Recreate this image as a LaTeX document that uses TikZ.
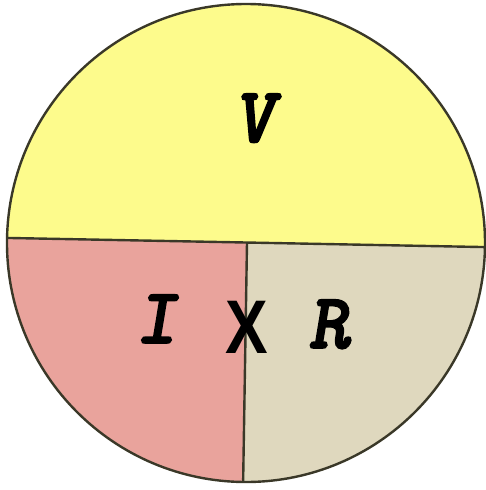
\documentclass[tikz,border=0pt]{standalone}
\usepackage{fontspec}
\usepackage{graphicx}
\setmainfont{Liberation Sans}
\newfontfamily\xsans{Liberation Sans}
\newfontfamily\slabfont{lmmonolt10-boldoblique.otf}[FakeBold=2]
\definecolor{vyel}{HTML}{FDFB8C}
\definecolor{ipink}{HTML}{E9A39C}
\definecolor{rbeige}{HTML}{DFD8BE}
\definecolor{edge}{HTML}{3A3828}
\tikzset{
  letter/.style={inner sep=0pt, anchor=base, text=black},
  slab/.style={letter, font={\slabfont\fontsize{79}{79}\selectfont}},
  divider/.style={draw=edge, line width=2.4pt},
}
\begin{document}
\begin{tikzpicture}[x=1pt,y=-1pt]
\useasboundingbox (0,0) rectangle (486,490);
\coordinate (c) at (246,243);
\begin{scope}
  \clip (c) circle[radius=239];
  \fill[ipink] (0,237.8) -- (486,247.1) -- (486,490) -- (0,490) -- cycle;
  \fill[rbeige] (247.2,200) -- (486,200) -- (486,490) -- (242.8,490) -- cycle;
  \fill[vyel] (0,0) -- (486,0) -- (486,247.1) -- (0,237.8) -- cycle;
  \coordinate (hl) at (0,237.8);
  \coordinate (hr) at (486,247.1);
  \coordinate (vt) at (247,242.5);
  \coordinate (vb) at (243,490);
  \draw[divider] (hl) -- (hr);
  \draw[divider] (vt) -- (vb);
\end{scope}
\draw[draw=edge, line width=2.4pt] (c) circle[radius=239];
\node[slab] (V) at (254,142) {V};
\node[slab] (I) at (156,343) {I};
\node[letter, font={\xsans\bfseries\fontsize{76}{76}\selectfont}] (X) at (247,353) {\scalebox{0.84}[1]{X}};
\node[slab] (R) at (329,348) {R};
\end{tikzpicture}
\end{document}
